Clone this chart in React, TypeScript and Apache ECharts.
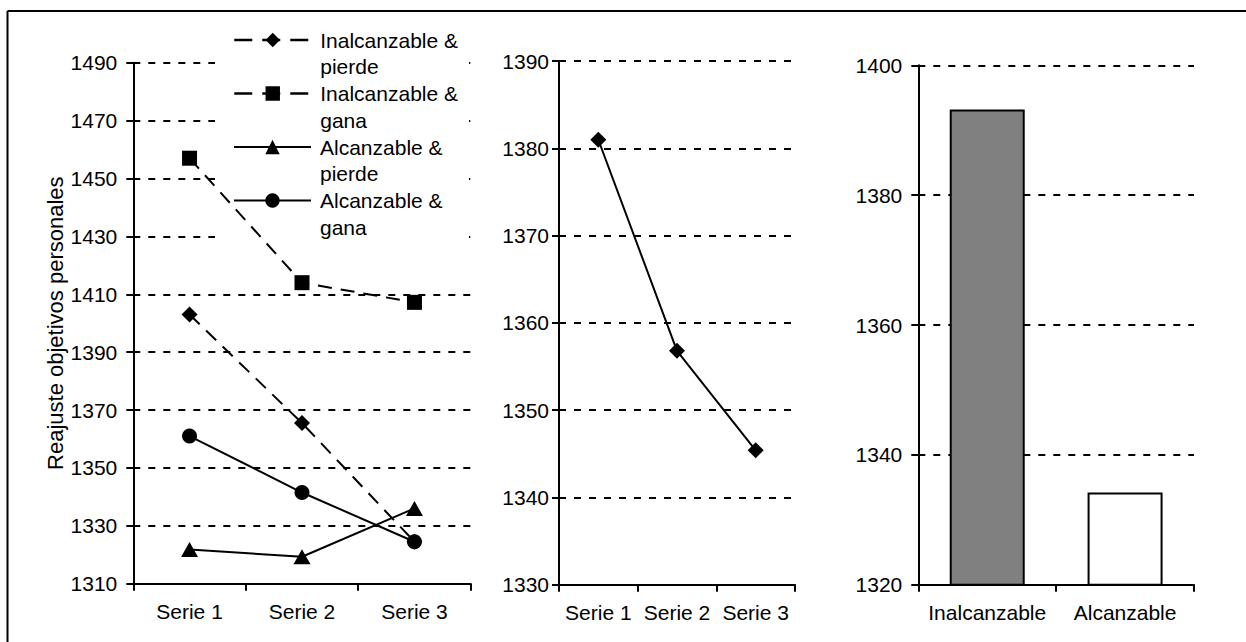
import React, { useEffect, useRef } from 'react';
import * as echarts from 'echarts';

// ---- data ----
const lineCategories = ['Serie 1', 'Serie 2', 'Serie 3'];
const inalcanzablePierde = [1403, 1365.5, 1324.5];
const inalcanzableGana = [1457, 1414, 1407.2];
const alcanzablePierde = [1321.8, 1319.3, 1336];
const alcanzableGana = [1361, 1341.5, 1324.5];
const middleValues = [1381, 1356.8, 1345.4];
const barCategories = ['Inalcanzable', 'Alcanzable'];
const barValues = [1393.2, 1334.2];
const barColors = ['#808080', '#ffffff'];
const leftAxis = { min: 1310, max: 1490, interval: 20 };
const middleAxis = { min: 1330, max: 1390, interval: 10 };
const rightAxis = { min: 1320, max: 1400, interval: 20 };
const yAxisName = 'Reajuste objetivos personales';
const legendLines = [
  ['Inalcanzable &', 'pierde'],
  ['Inalcanzable &', 'gana'],
  ['Alcanzable &', 'pierde'],
  ['Alcanzable &', 'gana'],
];

const FONT = '"Liberation Sans", Arial, sans-serif';
const FS = 21;
const LH = 26.5;
const BLACK = '#000';

export default function App() {
  const ref = useRef<HTMLDivElement>(null);
  useEffect(() => {
    if (!ref.current) return;
    const chart = echarts.init(ref.current, null, { renderer: 'svg' });

    const names = legendLines.map((l) => l.join(' '));
    const textStyle = { color: BLACK, fontSize: FS, fontFamily: FONT };
    const splitLine = { show: true, lineStyle: { color: BLACK, width: 2, type: [7, 8] as any } };
    const axisLine = { show: true, lineStyle: { color: BLACK, width: 2 } };
    const axisTick = { show: true, length: 7, lineStyle: { color: BLACK, width: 2 } };

    const mkX = (gridIndex: number, data: string[]) => ({
      type: 'category',
      gridIndex,
      data,
      boundaryGap: true,
      axisLine,
      axisTick,
      axisLabel: { ...textStyle, margin: 17, interval: 0, hideOverlap: false },
      splitLine: { show: false },
    });
    const mkY = (gridIndex: number, ax: any, margin: number, extra: any = {}) => ({
      type: 'value',
      gridIndex,
      min: ax.min,
      max: ax.max,
      interval: ax.interval,
      axisLine,
      axisTick,
      axisLabel: { ...textStyle, margin, formatter: (v: number) => String(v) },
      splitLine,
      ...extra,
    });

    const symbols = ['diamond', 'rect', 'triangle', 'circle'];
    const symbolSizes: any[] = [16, 15, [17, 15], 15];
    const dashed = [true, true, false, false];
    const leftData = [inalcanzablePierde, inalcanzableGana, alcanzablePierde, alcanzableGana];

    const iconCenters = [40, 93.5, 147, 200.5];

    const option: any = {
      animation: false,
      backgroundColor: '#fff',
      textStyle: { fontFamily: FONT },
      grid: [
        { left: 133.3, top: 62.7, width: 337.4, height: 521 },
        { left: 559, top: 61.2, width: 236, height: 523.5 },
        { left: 918.3, top: 65.3, width: 275.7, height: 519.4 },
      ],
      xAxis: [mkX(0, lineCategories), mkX(1, lineCategories), mkX(2, barCategories)],
      yAxis: [
        mkY(0, leftAxis, 16, {
          name: yAxisName,
          nameLocation: 'middle',
          nameRotate: 90,
          nameGap: 64,
          nameTextStyle: { ...textStyle, fontSize: 22 },
        }),
        mkY(1, middleAxis, 10),
        mkY(2, rightAxis, 16),
      ],
      legend: names.map((n, i) => ({
        data: [n],
        left: 233,
        top: iconCenters[i] - 1.5 * LH,
        padding: 0,
        orient: 'vertical',
        selectedMode: false,
        itemWidth: 77,
        itemHeight: 18,
        z: 4,
        formatter: () => '\n' + legendLines[i].join('\n'),
        textStyle: { ...textStyle, lineHeight: LH, padding: [0, 0, 0, 4] },
        lineStyle: dashed[i]
          ? { type: [18, 10], width: 2.5, color: BLACK }
          : { type: 'solid', width: 2, color: BLACK },
        itemStyle: { color: BLACK },
      })),
      graphic: [
        { type: 'rect', z: 1, shape: { x: 215, y: 18, width: 254, height: 228 }, style: { fill: '#fff' } },
        { type: 'line', z: 5, shape: { x1: 7.5, y1: 11, x2: 1246, y2: 11 }, style: { stroke: BLACK, lineWidth: 2 } },
        { type: 'line', z: 5, shape: { x1: 7.5, y1: 11, x2: 7.5, y2: 642 }, style: { stroke: BLACK, lineWidth: 2 } },
      ],
      series: [
        ...leftData.map((d, i) => ({
          type: 'line',
          name: names[i],
          xAxisIndex: 0,
          yAxisIndex: 0,
          data: d,
          symbol: symbols[i],
          symbolSize: symbolSizes[i],
          z: 2,
          lineStyle: { color: BLACK, width: 2, type: dashed[i] ? [14, 9] : 'solid' },
          itemStyle: { color: BLACK },
        })),
        {
          type: 'line',
          name: 'middle',
          xAxisIndex: 1,
          yAxisIndex: 1,
          data: middleValues,
          symbol: 'diamond',
          symbolSize: 16,
          z: 2,
          lineStyle: { color: BLACK, width: 2 },
          itemStyle: { color: BLACK },
        },
        {
          type: 'bar',
          name: 'bars',
          xAxisIndex: 2,
          yAxisIndex: 2,
          barWidth: 75,
          z: 2,
          data: barValues.map((v, i) => ({
            value: v,
            itemStyle: { color: barColors[i], borderColor: BLACK, borderWidth: 2 },
          })),
        },
      ],
    };
    chart.setOption(option);
    return () => chart.dispose();
  }, []);

  return (
    <div
      ref={ref}
      style={{ position: 'fixed', left: 0, top: 0, width: 1246, height: 642, background: '#fff' }}
    />
  );
}
